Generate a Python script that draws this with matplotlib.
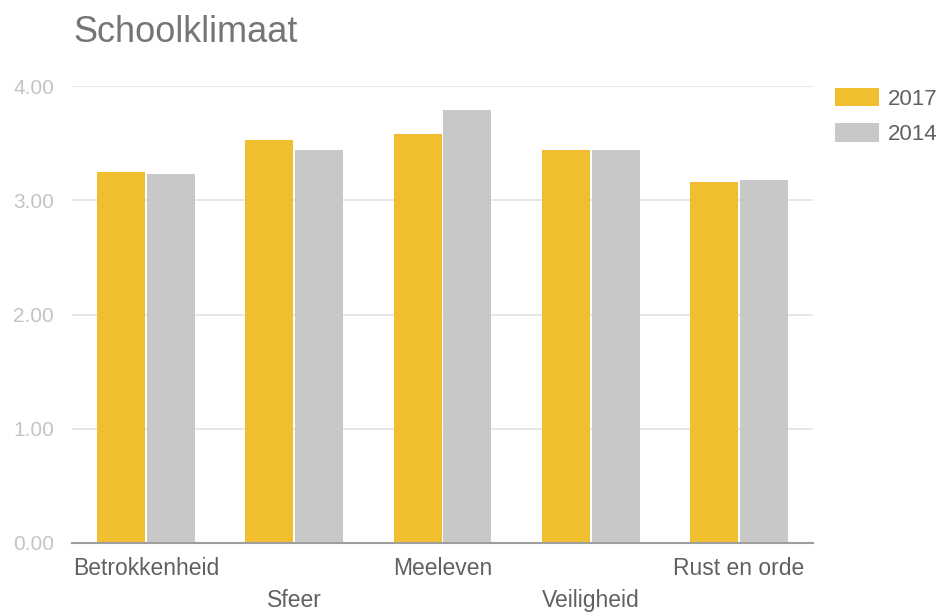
import matplotlib
matplotlib.use("Agg")
import matplotlib.pyplot as plt
import numpy as np

plt.rcParams['font.family'] = ['Liberation Sans', 'DejaVu Sans']

# data
categories = ["Betrokkenheid", "Sfeer", "Meeleven", "Veiligheid", "Rust en orde"]
series_names = ["2017", "2014"]
vals_2017 = [3.25, 3.53, 3.58, 3.44, 3.16]
vals_2014 = [3.23, 3.44, 3.79, 3.44, 3.18]
yticks = [0, 1, 2, 3, 4]

YELLOW = "#F0BE2E"
GREY = "#C8C8C8"

fig = plt.figure(figsize=(9.39, 6.13), dpi=100)
ax = fig.add_axes([72/939, 1-543/613, (813-72)/939, (543-86)/613])

x = np.arange(len(categories))
w = 0.325
off = 0.168
ax.bar(x - off, vals_2017, w, color=YELLOW, label=series_names[0], zorder=3)
ax.bar(x + off, vals_2014, w, color=GREY, label=series_names[1], zorder=3)

ax.set_xlim(-0.5, len(categories) - 0.5)
ax.set_ylim(0, 4)
ax.set_yticks(yticks)
ax.set_yticklabels([f"{v:.2f}" for v in yticks], fontsize=15, color="#C4C4C4")
ax.yaxis.grid(True, color="#E2E2E2", linewidth=1.2, zorder=0)
ax.set_axisbelow(True)

# staggered category labels
labs = [c if i % 2 == 0 else "\n" + c for i, c in enumerate(categories)]
ax.set_xticks(x)
ax.set_xticklabels(labs, fontsize=16.5, color="#616161", linespacing=1.48)
ax.tick_params(axis="x", length=0, pad=10)
ax.tick_params(axis="y", length=0, pad=13)

for s in ["top", "right", "left"]:
    ax.spines[s].set_visible(False)
ax.spines["bottom"].set_color("#9E9E9E")
ax.spines["bottom"].set_linewidth(1.5)
ax.spines["bottom"].set_zorder(4)

fig.text(73/939, 1-42/613, "Schoolklimaat", fontsize=26, color="#757575",
         ha="left", va="baseline")

leg = fig.legend(loc="upper left", bbox_to_anchor=(835/939, 1-88/613),
                 frameon=False, fontsize=16, handlelength=2.0, handleheight=0.9,
                 handletextpad=0.36, labelspacing=0.6, borderpad=0, borderaxespad=0)
for t in leg.get_texts():
    t.set_color("#616161")

fig.savefig("out.png", dpi=100)
